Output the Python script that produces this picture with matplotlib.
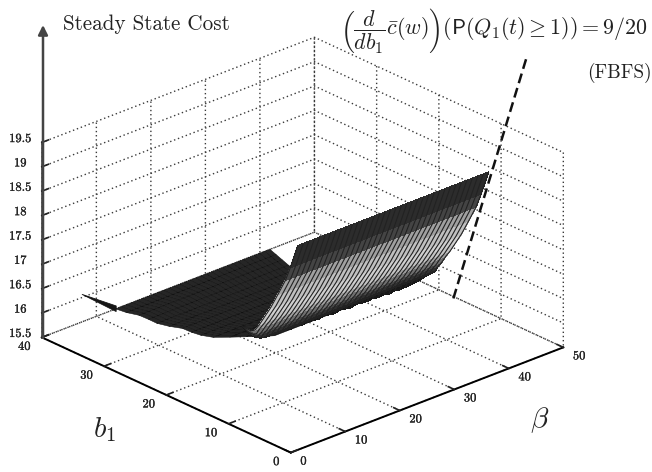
import numpy as np
import matplotlib
matplotlib.use('Agg')
import matplotlib.pyplot as plt
import matplotlib.patheffects as pe
from matplotlib.patches import FancyArrowPatch
from mpl_toolkits.mplot3d.art3d import Poly3DCollection

plt.rcParams['font.family'] = ['cmr10', 'DejaVu Serif']
plt.rcParams['mathtext.fontset'] = 'cm'
plt.rcParams['axes.formatter.use_mathtext'] = True
plt.rcParams['axes.unicode_minus'] = False

# Axis ticks
beta_ticks = [0, 10, 20, 30, 40, 50]
b1_ticks = [0, 10, 20, 30, 40]
cost_ticks = [15.5, 16, 16.5, 17, 17.5, 18, 18.5, 19, 19.5]
cost_labels = ['15.5', '16', '16.5', '17', '17.5', '18', '18.5', '19', '19.5']

# Near wall of the surface
wall_b1 = [12, 13.2, 14, 15.2, 16.4, 17.4, 18.2, 18.9, 19.5, 20, 20.4, 20.7, 21]
wall_z = [18.39, 17.87, 17.56, 17.2, 16.85, 16.6, 16.4, 16.25, 16.1, 16, 15.9, 15.82]
wall_beta = [15, 16, 17, 18, 19, 20, 21, 22, 23, 24, 25, 26, 27, 28, 29, 30, 31, 32,
             33, 34, 35, 36, 37, 38, 39, 40, 41, 42, 43, 44, 45, 46, 47, 48, 49, 50]
wall_valley_z = [16.2, 16.05, 15.92, 15.85, 15.8, 15.79, 15.78, 15.8, 15.77, 15.76,
                 15.79, 15.75, 15.77, 15.76, 15.74, 15.77, 15.75, 15.73, 15.76, 15.74,
                 15.72, 15.75, 15.73, 15.72, 15.74, 15.71, 15.73, 15.7, 15.72, 15.7,
                 15.71, 15.72, 15.73, 15.75, 15.78, 15.82]
wall_grays = ['#2c2c2c', '#444444', '#a0a0a0', '#c0c0c0', '#d0d0d0', '#c4c4c4',
              '#a0a0a0', '#707070', '#484848', '#303030', '#222222', '#181818']

# Far side of the trough
far_b1 = [21, 22, 23, 24, 25, 26, 27, 28, 29, 30, 31, 32, 33, 34]
far_z = [15.75, 15.74, 15.74, 15.75, 15.77, 15.8, 15.83, 15.87, 15.91, 15.96, 16, 16.05, 16.1, 16.15]
far_left_beta = [21, 19.4, 18, 16.2, 14.3, 13.2, 12.6, 12.1, 10.8, 9.7, 9.3, 8.7, 7.5, 6.7]
far_right_beta = 35

# Thin tip at the far left
tip_beta = [0, 6.7, 7.6]
tip_b1 = [33.6, 34, 34.8]
tip_z = [16.77, 16.22, 16.02]

# Dashed curve, in the beta = 50 plane
dash_beta = [50, 50]
dash_b1 = [17.67, 5.8]
dash_z = [15.46, 21.15]

fig = plt.figure(figsize=(6.52, 4.72), dpi=100)
side = 450
ax = fig.add_axes([(296.5 - side / 2) / 652, (221 - side / 2) / 472, side / 652, side / 472],
                  projection='3d')
ax.set_proj_type('ortho')
ax.view_init(elev=25, azim=-132.4)
ax.set_box_aspect((369, 369, 215), zoom=0.974 * 562.7 / side)
ax.computed_zorder = False

ax.set_xlim(0, 50)
ax.set_ylim(0, 40)
ax.set_zlim(15.5, 19.5)
ax.set_xticks(beta_ticks)
ax.set_yticks(b1_ticks)
ax.set_zticks(cost_ticks)
ax.set_xticklabels([str(t) for t in beta_ticks])
ax.set_yticklabels([str(t) for t in b1_ticks])
ax.set_zticklabels(cost_labels)
ax.tick_params(labelsize=9, colors='#222222', pad=-1)
ax.tick_params(axis='x', pad=-1.5)

# Panes off, dotted grid, dark axis lines
for axis in [ax.xaxis, ax.yaxis, ax.zaxis]:
    axis.set_pane_color((1, 1, 1, 0))
    axis.pane.set_edgecolor((1, 1, 1, 0))
    axis._axinfo['grid'].update(color='#3a3a3a', linewidth=1.0, linestyle=(0, (1, 2)))
    axis._axinfo['tick'].update(inward_factor=0.0, outward_factor=0.3)
    axis._axinfo['tick']['linewidth'] = {True: 1.2, False: 0.5}
    axis._axinfo['axisline']['color'] = '#222222'
    axis.line.set_linewidth(1.4)
    for label in axis.get_ticklabels():
        label.set_path_effects([pe.withStroke(linewidth=0.2, foreground='#222222')])
        label.set_va('baseline')
ax.zaxis.line.set_color('#555555')
ax.zaxis.line.set_linewidth(2)
for label in ax.xaxis.get_ticklabels():
    label.set_ha('left')
for label in ax.yaxis.get_ticklabels():
    label.set_ha('right')

# Far side
far_x = []
for left in far_left_beta:
    far_x.append(np.linspace(left, far_right_beta, 30))
far_x = np.array(far_x)
far_y = np.array([[b] * 30 for b in far_b1])
far_zz = np.array([[z] * 30 for z in far_z])
ax.plot_surface(far_x, far_y, far_zz, rstride=1, cstride=1, color='#262626', shade=False,
                edgecolor='#0c0c0c', linewidth=0.35, zorder=3)

tip = [list(zip(tip_beta, tip_b1, tip_z))]
ax.add_collection3d(Poly3DCollection(tip, facecolor='#151515', edgecolor='#151515',
                                     linewidth=0.6, zorder=3))

# Near wall, never below the valley line. Bands first, then only the hatch lines across them
wall_x, wall_y = np.meshgrid(wall_beta, wall_b1)
wall_zz = np.array([np.maximum(z, wall_valley_z) for z in wall_z] + [wall_valley_z])
faces = np.zeros(wall_zz.shape + (4,))
for i, g in enumerate(wall_grays):
    faces[i, :] = matplotlib.colors.to_rgba(g)
ax.plot_surface(wall_x, wall_y, wall_zz, rstride=1, cstride=1, facecolors=faces, shade=False,
                linewidth=0.2, antialiased=False, zorder=4)
ax.plot_wireframe(wall_x, wall_y, wall_zz, rstride=0, cstride=1, color='#222222',
                  linewidth=0.8, zorder=4.5)

ax.plot(dash_beta, dash_b1, dash_z, color='#111111', linewidth=1.8, linestyle=(0, (4, 2)),
        zorder=5, clip_on=False)

# Arrow on the cost axis
fig.add_artist(FancyArrowPatch((43 / 652, 1 - 337 / 472), (43 / 652, 1 - 25 / 472),
                               transform=fig.transFigure, arrowstyle='-|>', mutation_scale=14,
                               color='#444444', linewidth=1.8, shrinkA=0, shrinkB=0))

fig.text(63 / 652, 1 - 30 / 472, 'Steady State Cost', fontsize=15.2, color='#222222', va='baseline')
fig.text(340 / 652, 1 - 30 / 472,
         r'$\left(\dfrac{d}{db_1}\bar{c}(w)\right)\left(\mathsf{P}(Q_1(t)\geq 1)\right)=9/20$',
         fontsize=15.8, color='#222222', va='center')
fig.text(587 / 652, 1 - 73 / 472, '(FBFS)', fontsize=13.9, color='#222222', va='center')
fig.text(93 / 652, 1 - 437 / 472, r'$b_1$', fontsize=21, color='#222222', va='baseline')
fig.text(530 / 652, 1 - 427 / 472, r'$\beta$', fontsize=21, color='#222222', va='baseline')

fig.savefig('out.png', dpi=100)
